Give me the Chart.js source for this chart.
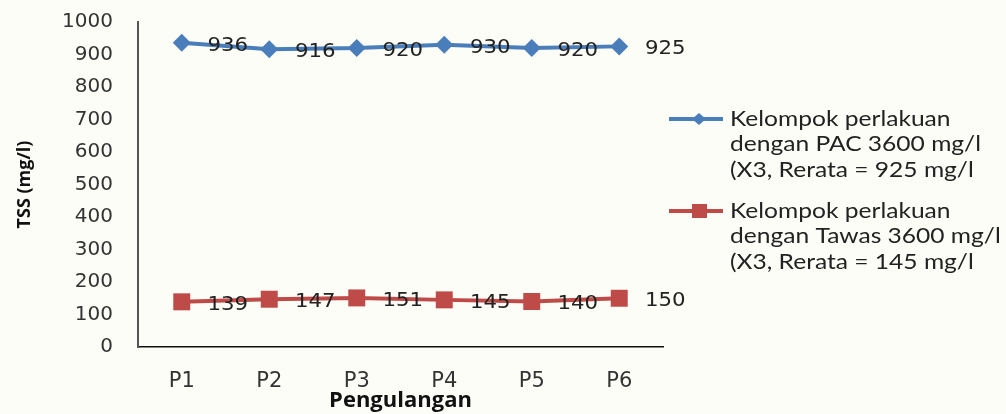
<!DOCTYPE html>
<html>
<head>
<meta charset="utf-8">
<script src="https://cdn.jsdelivr.net/npm/chart.js@4"></script>
<style>
  html, body { margin: 0; padding: 0; background: #fdfdf8; }
  #wrap { width: 1006px; height: 414px; }
</style>
</head>
<body>
<div id="wrap"><canvas id="c" width="1006" height="414"></canvas></div>
<script>
// Repetitions and TSS values (mg/l)
const categories = ['P1', 'P2', 'P3', 'P4', 'P5', 'P6'];
const pacValues = [936, 916, 920, 930, 920, 925];
const tawasValues = [139, 147, 151, 145, 140, 150];
const yTicks = [0, 100, 200, 300, 400, 500, 600, 700, 800, 900, 1000];
const pacLegend = ['Kelompok perlakuan', 'dengan PAC 3600 mg/l', '(X3, Rerata = 925 mg/l'];
const tawasLegend = ['Kelompok perlakuan', 'dengan Tawas 3600 mg/l', '(X3, Rerata = 145 mg/l'];
const yTitle = 'TSS (mg/l)';
const xTitle = 'Pengulangan';

const BLUE = '#4a7ebb';
const RED = '#be4b48';
const NUM_FONT = '"DejaVu Sans", Verdana, sans-serif';
const TXT_FONT = 'Lato, "Open Sans", sans-serif';
const BOLD_FONT = '"Open Sans", Lato, sans-serif';

// Value labels to the right of every point
const valueLabels = {
  id: 'valueLabels',
  afterDatasetsDraw(chart) {
    const ctx = chart.ctx;
    ctx.save();
    ctx.font = '19px ' + NUM_FONT;
    ctx.fillStyle = '#222';
    ctx.textAlign = 'center';
    ctx.textBaseline = 'middle';
    chart.data.datasets.forEach((ds, di) => {
      chart.getDatasetMeta(di).data.forEach((pt, i) => {
        ctx.save();
        ctx.translate(pt.x + 46, pt.y + 3);
        ctx.scale(1.12, 1);
        ctx.fillText(String(ds.data[i]), 0, 0);
        ctx.restore();
      });
    });
    ctx.restore();
  }
};

// Multi-line legend on the right side
const sideLegend = {
  id: 'sideLegend',
  afterDraw(chart) {
    const ctx = chart.ctx;
    const entries = [
      { lines: pacLegend, color: BLUE, shape: 'diamond', y: 119 },
      { lines: tawasLegend, color: RED, shape: 'square', y: 211 }
    ];
    ctx.save();
    entries.forEach(e => {
      ctx.strokeStyle = e.color;
      ctx.lineWidth = 4;
      ctx.beginPath();
      ctx.moveTo(669, e.y);
      ctx.lineTo(723, e.y);
      ctx.stroke();
      ctx.fillStyle = e.color;
      ctx.beginPath();
      if (e.shape === 'diamond') {
        ctx.moveTo(699, e.y - 6); ctx.lineTo(706, e.y); ctx.lineTo(699, e.y + 6); ctx.lineTo(692, e.y);
        ctx.closePath(); ctx.fill();
      } else {
        ctx.fillRect(692, e.y - 7, 15, 14);
      }
      ctx.fillStyle = '#222';
      ctx.font = '21px ' + TXT_FONT;
      ctx.textAlign = 'left';
      ctx.textBaseline = 'middle';
      e.lines.forEach((t, k) => {
        ctx.save();
        ctx.translate(730, e.y + k * 25.5);
        ctx.scale(1.17, 1);
        ctx.fillText(t, 0, 0);
        ctx.restore();
      });
    });
    ctx.restore();
  }
};

new Chart(document.getElementById('c'), {
  type: 'line',
  data: {
    labels: categories,
    datasets: [
      {
        label: pacLegend.join(' '),
        data: pacValues,
        borderColor: BLUE,
        backgroundColor: BLUE,
        borderWidth: 4,
        pointStyle: 'rectRot',
        pointRadius: 9,
        pointHoverRadius: 9,
        pointBorderWidth: 0,
        tension: 0
      },
      {
        label: tawasLegend.join(' '),
        data: tawasValues,
        borderColor: RED,
        backgroundColor: RED,
        borderWidth: 4,
        pointStyle: 'rect',
        pointRadius: 12,
        pointHoverRadius: 12,
        pointBorderWidth: 0,
        tension: 0
      }
    ]
  },
  options: {
    responsive: false,
    animation: false,
    events: [],
    layout: { autoPadding: false, padding: { left: 0, right: 343, top: 22, bottom: 0 } },
    plugins: { legend: { display: false }, tooltip: { enabled: false } },
    scales: {
      x: {
        offset: true,
        grid: { display: false, drawTicks: false },
        border: { display: true, color: '#111', width: 1.5 },
        ticks: { color: '#333', padding: 22, font: { family: NUM_FONT, size: 21 } },
        title: {
          display: true, text: xTitle, color: '#111',
          font: { family: BOLD_FONT, size: 22, weight: 'bold' },
          padding: { top: -4, bottom: 0 }
        },
        afterFit(s) { s.height = 67; s.paddingLeft = 0; s.paddingRight = 0; }
      },
      y: {
        min: 0, max: 1000,
        afterBuildTicks(s) { s.ticks = yTicks.map(v => ({ value: v })); },
        grid: { display: false, drawTicks: false },
        border: { display: true, color: '#555', width: 2 },
        ticks: {
          color: '#333', padding: 25, font: { family: NUM_FONT, size: 20 },
          callback: v => String(v)
        },
        title: {
          display: true, text: yTitle, color: '#111',
          font: { family: BOLD_FONT, size: 18, weight: 'bold' },
          padding: { top: 14, bottom: 0 }
        },
        afterFit(s) { s.width = 138; s.paddingTop = 0; s.paddingBottom = 0; }
      }
    }
  },
  plugins: [valueLabels, sideLegend]
});
</script>
</body>
</html>
